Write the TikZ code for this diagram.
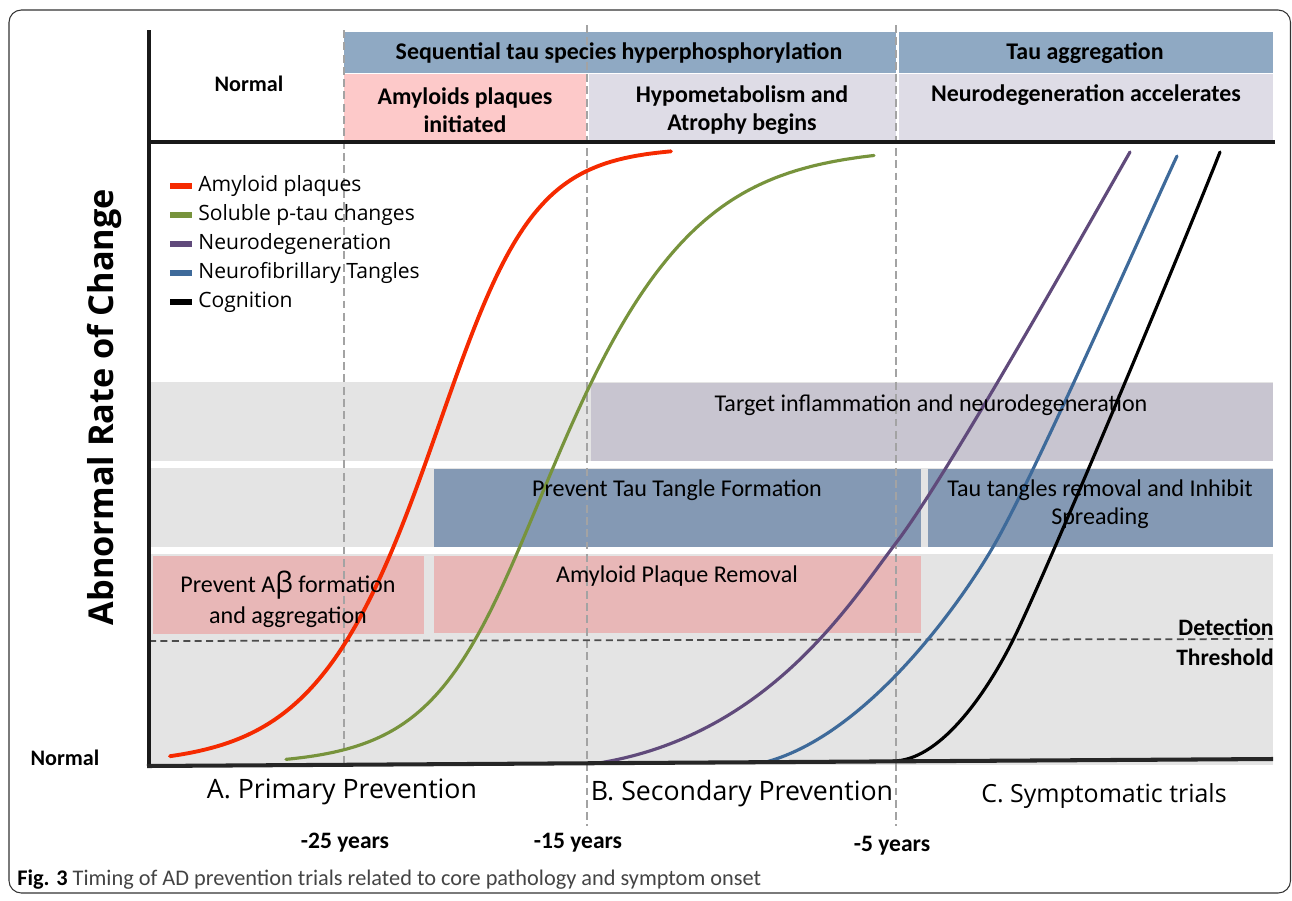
\documentclass[tikz,border=0pt]{standalone}
\usepackage{fontspec}
\setmainfont{Carlito}
\newfontfamily\opensans{Open Sans}
\usetikzlibrary{positioning}
\definecolor{hdrblue}{HTML}{8FA9C3}
\definecolor{hdrpink}{HTML}{FDC9C9}
\definecolor{hdrlav}{HTML}{DEDCE6}
\definecolor{bandgray}{HTML}{E4E4E4}
\definecolor{inflam}{HTML}{C8C5D0}
\definecolor{taubox}{HTML}{8499B4}
\definecolor{amybox}{HTML}{E8B7B7}
\definecolor{guidegray}{HTML}{A3A3A3}
\definecolor{amyred}{HTML}{F52A00}
\definecolor{ptaugreen}{HTML}{77933C}
\definecolor{neuropurple}{HTML}{604A7B}
\definecolor{tangleblue}{HTML}{3E6A9A}
\definecolor{captiongray}{HTML}{444444}

\begin{document}
\begin{tikzpicture}[x=0.02cm,y=-0.02cm,
    boxtext/.style={font=\fontsize{13.7}{16}\selectfont, align=center, inner sep=0pt},
    hdrtext/.style={font=\bfseries\fontsize{13.6}{15.9}\selectfont, align=center, inner sep=0pt},
    legtext/.style={font=\opensans\fontsize{12}{13}\selectfont, anchor=west, inner sep=0pt},
    yeartext/.style={font=\bfseries\fontsize{13.4}{16}\selectfont, inner sep=0pt},
    phasetext/.style={font=\opensans\fontsize{15.2}{18}\selectfont, inner sep=0pt},
    guide/.style={draw=guidegray, line width=0.9pt, dash pattern=on 4.5pt off 2.5pt},
    curve/.style={line width=1.8pt, line cap=round},
  ]
  \useasboundingbox (0,0) rectangle (1292,900);
  % frame
  \draw[draw=black!80, line width=0.6pt, rounded corners=7pt] (9,10) rectangle (1290.5,893);

  % grey bands behind the trials
  \fill[bandgray] (149,382) rectangle (1273,461);
  \fill[bandgray] (149,468) rectangle (1273,547);
  \fill[bandgray] (149,554) rectangle (1273,765);

  % trial boxes
  \fill[inflam] (591,383) rectangle (1273,461);
  \fill[taubox] (434,469) rectangle (921,547);
  \fill[taubox] (928,469) rectangle (1273,547);
  \fill[amybox] (153,556) rectangle (424,634);
  \fill[amybox] (434,556) rectangle (921,633);

  % header
  \fill[hdrblue] (344,32) rectangle (896,73);
  \fill[hdrblue] (899,32) rectangle (1273,73);
  \fill[hdrpink] (344,74) rectangle (586,140);
  \fill[hdrlav] (589,74) rectangle (896,140);
  \fill[hdrlav] (899,74) rectangle (1273,140);

  % time guides
  \draw[guide] (344,30) -- (344,764);
  \draw[guide] (587,25) -- (587,826);
  \draw[guide] (896,25) -- (896,826);
  \draw[draw=black!70, line width=1pt, dash pattern=on 4pt off 2.5pt] (149,641) -- (1273,639);

  % curves
  \draw[curve, amyred, line width=2.2pt] plot[domain=170:671, samples=150] (\x, {765-618/(1+exp(-(\x-428)/(55-6*tanh((\x-428)/100))))});
  \draw[curve, ptaugreen] plot[domain=286:874, samples=150] (\x, {765-618/(1+exp(-(\x-558)/(66+8*tanh((\x-558)/100))))});
  \draw[curve, neuropurple] (599,763) .. controls (769,735) and (850,603) .. (896,543)
    .. controls (948,475) and (1090,222) .. (1130,152);
  \draw[curve, tangleblue] (766,762) .. controls (866,735) and (958,607) .. (993,547)
    .. controls (1033,479) and (1147,220) .. (1177,156);
  \draw[curve, black] (893,761) .. controls (938,761) and (984,698) .. (1013,640)
    .. controls (1046,574) and (1187,236) .. (1220,152);

  % axes
  \draw[line width=1.8pt, black!90] (149,30) -- (149,767);
  \draw[line width=1.8pt, black!90] (149,142) -- (1275,142);
  \draw[line width=2.3pt, black!85] (147,766) -- (1273,759);

  % header texts
  \node[hdrtext, font=\bfseries\fontsize{12.6}{15}\selectfont] (normtop) at (249,84) {Normal};
  \node[hdrtext] (seqtau) at (619,53) {Sequential tau species hyperphosphorylation};
  \node[hdrtext] (tauagg) at (1085,53) {Tau aggregation};
  \node[hdrtext] (amyinit) at (465,110) {Amyloids plaques\\initiated};
  \node[hdrtext] (hypomet) at (742,110) {Hypometabolism and\\Atrophy begins};
  \node[hdrtext] (neuroacc) at (1086,95) {Neurodegeneration accelerates};

  % legend
  \foreach \col/\txt [count=\i] in {amyred/Amyloid plaques, ptaugreen/Soluble p-tau changes, neuropurple/Neurodegeneration, tangleblue/Neurofibrillary Tangles, black/Cognition} {
    \fill[\col] (170,{157+29*\i-3}) rectangle (192,{157+29*\i+3});
    \node[legtext] (leg\i) at (198,{157+29*\i}) {\txt};
  }

  % trial texts
  \node[boxtext] (inflamtxt) at (931,405) {Target inflammation and neurodegeneration};
  \node[boxtext] (preventtau) at (677,490) {Prevent Tau Tangle Formation};
  \node[boxtext] (tauremoval) at (1100,504) {Tau tangles removal and Inhibit\\Spreading};
  \node[boxtext, font=\fontsize{13.7}{17.6}\selectfont] (preventab) at (288,599) {Prevent A{\opensans\fontsize{16}{17.6}\selectfont β} formation\\and aggregation};
  \node[boxtext] (amyremoval) at (677,576) {Amyloid Plaque Removal};

  % threshold and axis labels
  \node[yeartext, anchor=east] (detect) at (1274,627) {Detection};
  \node[yeartext, anchor=east] (thresh) at (1274,657) {Threshold};
  \node[hdrtext, font=\bfseries\fontsize{12.6}{15}\selectfont] (normbot) at (65,758) {Normal};
  \node[rotate=90, font=\opensans\bfseries\fontsize{19.5}{22}\selectfont] (ylabel) at (105,407) {Abnormal Rate of Change};

  % phases and years
  \node[phasetext] (primary) at (342,792) {A. Primary Prevention};
  \node[phasetext] (secondary) at (742,794) {B. Secondary Prevention};
  \node[phasetext, font=\opensans\fontsize{14.2}{18}\selectfont] (symptomatic) at (1104,796) {C. Symptomatic trials};
  \node[yeartext] (y25) at (345,843) {-25 years};
  \node[yeartext] (y15) at (578,843) {-15 years};
  \node[yeartext] (y5) at (892,846) {-5 years};

  % caption
  \node[anchor=west, inner sep=0pt, text=captiongray, font=\fontsize{12.7}{14}\selectfont] (caption) at (17,880) {\textbf{\color{black}Fig. 3} Timing of AD prevention trials related to core pathology and symptom onset};
\end{tikzpicture}
\end{document}
